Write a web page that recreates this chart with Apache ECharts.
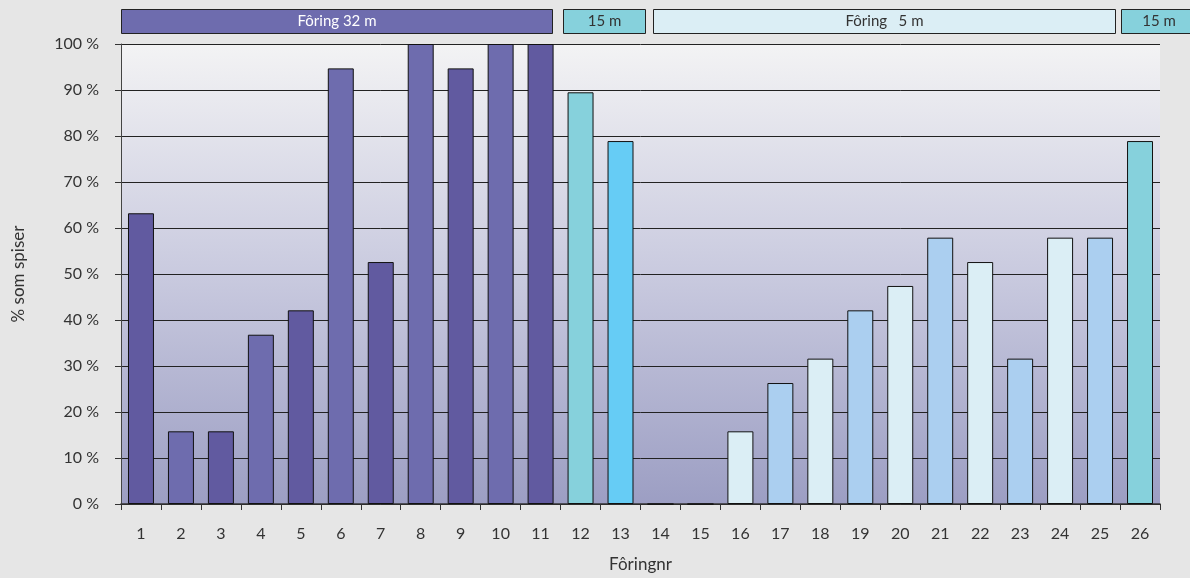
<!DOCTYPE html>
<html>
<head>
<meta charset="utf-8">
<script src="https://cdn.jsdelivr.net/npm/echarts@6/dist/echarts.min.js"></script>
<style>
html,body{margin:0;padding:0;background:#e6e6e6;}
#c{width:1190px;height:578px;}
</style>
</head>
<body>
<div id="c"></div>
<script>
// ---- data ----
const categories = ['1','2','3','4','5','6','7','8','9','10','11','12','13','14','15','16','17','18','19','20','21','22','23','24','25','26'];
const percentEating = [63.2,15.8,15.8,36.8,42.1,94.7,52.6,100,94.7,100,100,89.5,78.9,0,0,15.8,26.3,31.6,42.1,47.4,57.9,52.6,31.6,57.9,57.9,78.9];
const yTicks = [0,10,20,30,40,50,60,70,80,90,100];
const headerLabels = ['Fôring 32 m','15 m','Fôring   5 m','15 m'];

// ---- styles ----
const barColors = ['#615aa0','#6e6cae','#615aa0','#6e6cae','#615aa0','#6e6cae','#615aa0','#6e6cae','#615aa0','#6e6cae','#615aa0',
  '#86d1dc','#66ccf5','#dbeef5','#dbeef5',
  '#dbeef5','#abcff0','#dbeef5','#abcff0','#dbeef5','#abcff0','#dbeef5','#abcff0','#dbeef5','#abcff0','#86d1dc'];
const headerBoxes = [
  {x:121, w:431, fill:'#6e6cae', text:'#ffffff'},
  {x:563, w:82, fill:'#86d1dc', text:'#333333'},
  {x:653, w:462, fill:'#dbeef5', text:'#333333'},
  {x:1121, w:75, fill:'#86d1dc', text:'#333333'}
];
const FONT = 'Lato, "Open Sans", sans-serif';

const chart = echarts.init(document.getElementById('c'), null, {renderer:'canvas'});
const graphics = headerBoxes.map((b, i) => ({
  type:'group', left:b.x, top:9,
  children:[
    {type:'rect', shape:{x:0,y:0,width:b.w,height:24}, style:{fill:b.fill, stroke:'#222', lineWidth:1}},
    {type:'text', x:b.w/2, y:12, style:{text:headerLabels[i], fill:b.text, font:'15px '+FONT, align:'center', verticalAlign:'middle'}}
  ]
}));

chart.setOption({
  backgroundColor:'#e6e6e6',
  animation:false,
  grid:{left:121, right:30, top:44, bottom:74, show:true, borderWidth:0,
    backgroundColor:new echarts.graphic.LinearGradient(0,0,0,1,[{offset:0,color:'#f3f3f4'},{offset:0.5,color:'#c9cadf'},{offset:1,color:'#9c9ec3'}])},
  xAxis:{
    type:'category', data:categories,
    name:'Fôringnr', nameLocation:'middle', nameGap:52,
    nameTextStyle:{fontFamily:FONT, fontSize:17, color:'#333'},
    axisLine:{show:true, lineStyle:{color:'#333', width:1.5}},
    axisTick:{show:true, length:6, lineStyle:{color:'#333'}},
    axisLabel:{fontFamily:FONT, fontSize:16, color:'#333', margin:22}
  },
  yAxis:{
    type:'value', min:0, max:100, interval:10,
    name:'% som spiser', nameLocation:'middle', nameGap:94, nameRotate:90,
    nameTextStyle:{fontFamily:FONT, fontSize:17, color:'#333'},
    axisLine:{show:true, lineStyle:{color:'#444', width:1}},
    axisTick:{show:true, length:6, inside:false, lineStyle:{color:'#333'}},
    axisLabel:{fontFamily:FONT, fontSize:16, color:'#333', margin:22,
      formatter:v => yTicks.includes(v) ? v + ' %' : ''},
    splitLine:{show:true, lineStyle:{color:'#222', width:1}}
  },
  series:[{
    type:'bar', data:percentEating, barCategoryGap:'35%',
    itemStyle:{color:p => barColors[p.dataIndex], borderColor:'#111', borderWidth:1}
  }],
  graphic:graphics
});
</script>
</body>
</html>
